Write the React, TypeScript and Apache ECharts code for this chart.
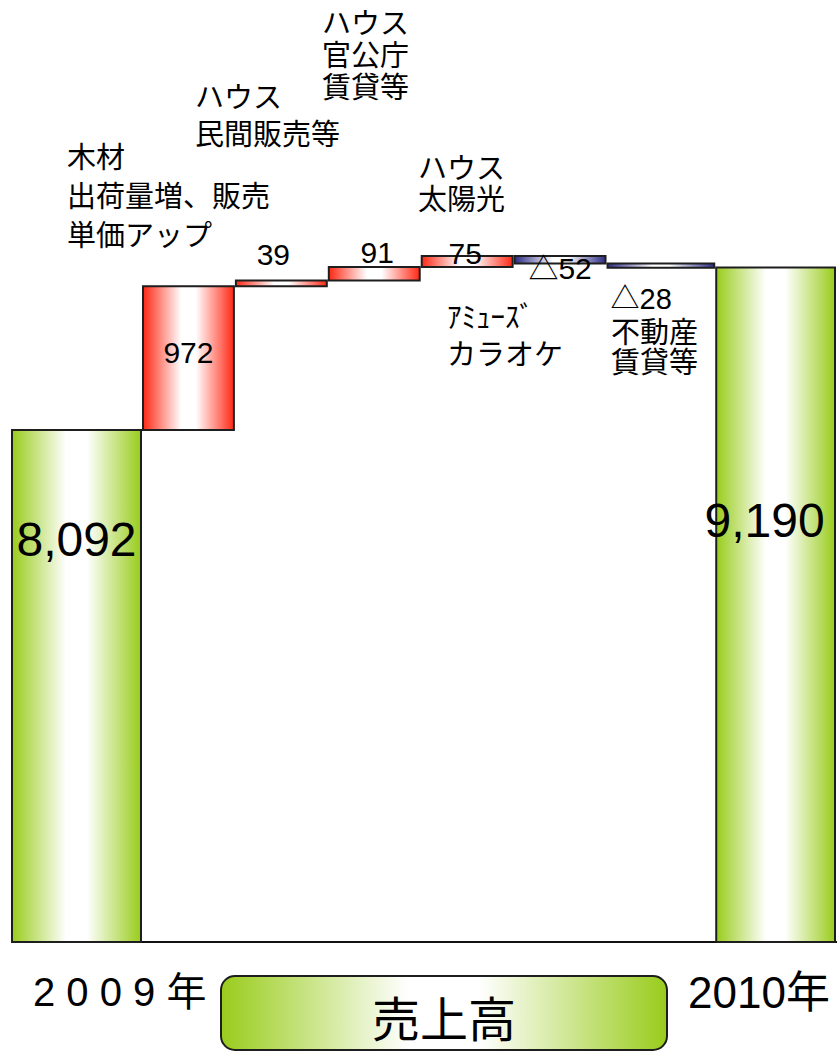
import React, { useEffect, useRef } from "react";
import * as echarts from "echarts";

// ---- data ----
const CATEGORIES = ["2009年", "木材", "ハウス民間販売等", "ハウス官公庁賃貸等", "ハウス太陽光", "アミューズカラオケ", "不動産賃貸等", "2010年"];
const VALUES = [8092, 972, 39, 91, 75, -52, -28, 9190];
const IS_TOTAL = [true, false, false, false, false, false, false, true];
const YEAR_LABELS = ["2 0 0 9 年", "2010年"];
const AXIS_TITLE = "売上高";
const NOTES = [
  "木材\n出荷量増、販売\n単価アップ",
  "ハウス\n民間販売等",
  "ハウス\n官公庁\n賃貸等",
  "ハウス\n太陽光",
  "ｱﾐｭｰｽﾞ\nカラオケ",
  "不動産\n賃貸等",
];

// ---- layout (not data) ----
const Y_MIN = 4628;
const Y_MAX = 11000;
const SLOT = [1.41, 1, 1, 1, 1, 1, 1.17, 1.3];
const GAP = 2;
// label offsets relative to bar centre (dx) and bar top (dy)
const LABEL_POS: { dx: number; dy: number; size: number; align: string }[] = [
  { dx: 0, dy: 110, size: 48, align: "center" },
  { dx: 0, dy: 66, size: 30, align: "center" },
  { dx: -8, dy: -26, size: 30, align: "center" },
  { dx: 3, dy: -14, size: 30, align: "center" },
  { dx: -2, dy: -2, size: 30, align: "center" },
  { dx: 0, dy: 13, size: 30, align: "center" },
  { dx: 0, dy: 35, size: 29, align: "left" },
  { dx: -11, dy: 253, size: 48, align: "center" },
];
const NOTE_POS = [
  { x: 67, y: 138, lh: 39 },
  { x: 195, y: 79, lh: 37 },
  { x: 322, y: 8, lh: 32 },
  { x: 418, y: 153, lh: 31 },
  { x: 447, y: 299, lh: 37 },
  { x: 611, y: 318, lh: 30 },
];

const FONT = '"Liberation Sans", Arial, "Noto Sans CJK JP", sans-serif';

const grad = (edge: string, mid: string) =>
  new echarts.graphic.LinearGradient(0, 0, 1, 0, [
    { offset: 0, color: edge },
    { offset: 0.42, color: mid },
    { offset: 0.58, color: mid },
    { offset: 1, color: edge },
  ]);

function fmt(v: number, total: boolean) {
  if (total) return v.toLocaleString("en-US");
  if (v < 0) return "△" + Math.abs(v);
  return String(v);
}

export default function App() {
  const ref = useRef<HTMLDivElement>(null);
  useEffect(() => {
    if (!ref.current) return;
    const chart = echarts.init(ref.current, null, { renderer: "svg" });

    const cum: number[] = [];
    let acc = 0;
    SLOT.forEach((s) => {
      cum.push(acc);
      acc += s;
    });
    const xMax = acc;

    let running = 0;
    const rows = VALUES.map((v, i) => {
      if (IS_TOTAL[i]) {
        running = v;
        return [i, Y_MIN, v, v];
      }
      const start = running;
      running += v;
      return [i, Math.min(start, running), Math.max(start, running), v];
    });

    const renderItem = (params: any, api: any) => {
      const idx = api.value(0);
      const low = api.value(1);
      const high = api.value(2);
      const v = api.value(3);
      const p1 = api.coord([cum[idx], high]);
      const p2 = api.coord([cum[idx] + SLOT[idx], low]);
      const x = p1[0];
      const y = p1[1];
      const w = p2[0] - p1[0] - GAP;
      const h = p2[1] - p1[1];
      let fill;
      if (IS_TOTAL[idx]) fill = grad("#99cc1c", "#ffffff");
      else if (v >= 0) fill = grad("#ff2814", "#ffffff");
      else fill = grad("#2c2c86", "#ffffff");
      const lp = LABEL_POS[idx];
      const lx = lp.align === "left" ? x + 3 : x + w / 2 + lp.dx;
      return {
        type: "group",
        children: [
          {
            type: "rect",
            shape: { x, y, width: w, height: h },
            style: { fill, stroke: "#1e1e1e", lineWidth: 2 },
          },
          {
            type: "text",
            x: lx,
            y: y + lp.dy,
            z2: 100,
            style: {
              text: fmt(v, IS_TOTAL[idx]),
              fontSize: lp.size,
              fontFamily: FONT,
              fill: "#000",
              align: lp.align,
              verticalAlign: "middle",
            },
          },
        ],
      };
    };

    const noteGraphics = NOTES.map((t, i) => ({
      type: "text",
      left: NOTE_POS[i].x,
      top: NOTE_POS[i].y,
      style: {
        text: t,
        fontSize: 29,
        lineHeight: NOTE_POS[i].lh,
        fontFamily: FONT,
        fill: "#000",
      },
    }));

    chart.setOption({
      animation: false,
      grid: { left: 12, right: 0, top: 0, bottom: 110 },
      xAxis: {
        type: "value",
        min: 0,
        max: xMax,
        axisLine: { show: true, onZero: false, lineStyle: { color: "#111", width: 2 } },
        axisTick: { show: false },
        axisLabel: { show: false },
        splitLine: { show: false },
      },
      yAxis: {
        type: "value",
        min: Y_MIN,
        max: Y_MAX,
        show: false,
        splitLine: { show: false },
      },
      series: [
        {
          type: "custom",
          name: "売上高",
          renderItem,
          encode: { x: 0, y: [1, 2] },
          data: rows,
          z: 2,
        },
      ],
      graphic: [
        ...noteGraphics,
        {
          type: "text",
          left: 33,
          top: 972,
          style: { text: YEAR_LABELS[0], fontSize: 40, fontFamily: FONT, fill: "#000" },
        },
        {
          type: "text",
          left: 688,
          top: 970,
          style: { text: YEAR_LABELS[1], fontSize: 44, fontFamily: FONT, fill: "#000" },
        },
        {
          type: "rect",
          shape: { x: 221, y: 976, width: 446, height: 74, r: 14 },
          style: {
            fill: grad("#99cc1c", "#ffffff"),
            stroke: "#1e1e1e",
            lineWidth: 2,
          },
        },
        {
          type: "text",
          x: 444,
          y: 1020,
          style: {
            text: AXIS_TITLE,
            fontSize: 48,
            fontFamily: FONT,
            fill: "#000",
            align: "center",
            verticalAlign: "middle",
          },
        },
      ],
    });
    return () => chart.dispose();
  }, []);
  return (
    <div
      ref={ref}
      style={{ position: "absolute", left: 0, top: 0, width: 837, height: 1052 }}
    />
  );
}
